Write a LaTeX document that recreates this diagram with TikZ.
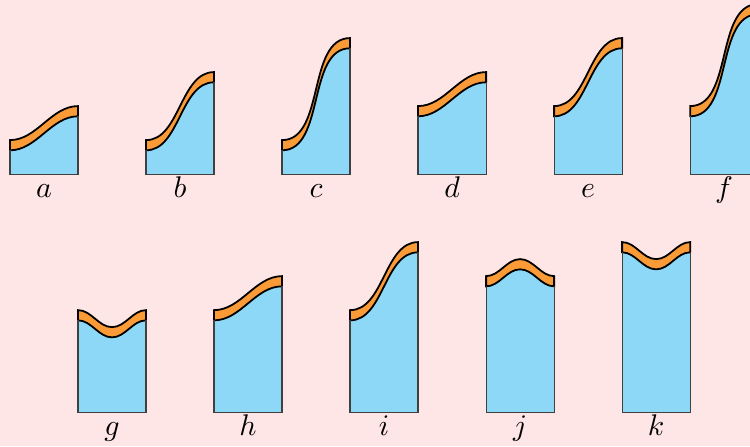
\documentclass[tikz,border=0pt]{standalone}
\usepackage{amsmath}
\usepackage{amssymb}
\usepackage{tikz}
\definecolor{bg}{RGB}{255,230,230}
\definecolor{water}{RGB}{142,216,247}
\definecolor{peel}{RGB}{250,155,55}
\begin{document}
\begin{tikzpicture}[scale=0.4,
  pool/.style={fill=water},
  crust/.style={fill=peel,draw=black,line width=0.6pt},
  wall/.style={draw=black!75,line width=0.4pt},
  ease/.style={out=0,in=180,looseness=0.9},
  easeback/.style={out=180,in=0,looseness=0.9},
  tag/.style={anchor=base,inner sep=0pt}]
\useasboundingbox[fill=bg] (-0.294,-1.0) rectangle (21.76,12.12);

\fill[pool] (0,7) -- (0,7.7) to[ease] (2,8.7) -- (2,7) -- cycle;
\filldraw[crust] (0,7.7) to[ease] (2,8.7) -- (2,9) to[easeback] (0,8) -- cycle;
\draw[wall] (0,7.7) -- (0,7) -- (2,7) -- (2,8.7);
\node (a) at (1,6.31) [tag] {$a$};

\fill[pool] (4,7) -- (4,7.7) to[ease] (6,9.7) -- (6,7) -- cycle;
\filldraw[crust] (4,7.7) to[ease] (6,9.7) -- (6,10) to[easeback] (4,8) -- cycle;
\draw[wall] (4,7.7) -- (4,7) -- (6,7) -- (6,9.7);
\node (b) at (5,6.31) [tag] {$b$};

\fill[pool] (8,7) -- (8,7.7) to[ease] (10,10.7) -- (10,7) -- cycle;
\filldraw[crust] (8,7.7) to[ease] (10,10.7) -- (10,11) to[easeback] (8,8) -- cycle;
\draw[wall] (8,7.7) -- (8,7) -- (10,7) -- (10,10.7);
\node (c) at (9,6.31) [tag] {$c$};

\fill[pool] (12,7) -- (12,8.7) to[ease] (14,9.7) -- (14,7) -- cycle;
\filldraw[crust] (12,8.7) to[ease] (14,9.7) -- (14,10) to[easeback] (12,9) -- cycle;
\draw[wall] (12,8.7) -- (12,7) -- (14,7) -- (14,9.7);
\node (d) at (13,6.31) [tag] {$d$};

\fill[pool] (16,7) -- (16,8.7) to[ease] (18,10.7) -- (18,7) -- cycle;
\filldraw[crust] (16,8.7) to[ease] (18,10.7) -- (18,11) to[easeback] (16,9) -- cycle;
\draw[wall] (16,8.7) -- (16,7) -- (18,7) -- (18,10.7);
\node (e) at (17,6.31) [tag] {$e$};

\fill[pool] (20,7) -- (20,8.7) to[ease] (22,11.7) -- (22,7) -- cycle;
\filldraw[crust] (20,8.7) to[ease] (22,11.7) -- (22,12) to[easeback] (20,9) -- cycle;
\draw[wall] (20,8.7) -- (20,7) -- (22,7) -- (22,11.7);
\node (f) at (21,6.31) [tag] {$f$};

\fill[pool] (2,0) -- (2,2.7) to[ease] (3,2.2) to[ease] (4,2.7) -- (4,0) -- cycle;
\filldraw[crust] (2,2.7) to[ease] (3,2.2) to[ease] (4,2.7) -- (4,3) to[easeback] (3,2.5) to[easeback] (2,3) -- cycle;
\draw[wall] (2,2.7) -- (2,0) -- (4,0) -- (4,2.7);
\node (g) at (3,-0.69) [tag] {$g$};

\fill[pool] (6,0) -- (6,2.7) to[ease] (8,3.7) -- (8,0) -- cycle;
\filldraw[crust] (6,2.7) to[ease] (8,3.7) -- (8,4) to[easeback] (6,3) -- cycle;
\draw[wall] (6,2.7) -- (6,0) -- (8,0) -- (8,3.7);
\node (h) at (7,-0.69) [tag] {$h$};

\fill[pool] (10,0) -- (10,2.7) to[ease] (12,4.7) -- (12,0) -- cycle;
\filldraw[crust] (10,2.7) to[ease] (12,4.7) -- (12,5) to[easeback] (10,3) -- cycle;
\draw[wall] (10,2.7) -- (10,0) -- (12,0) -- (12,4.7);
\node (i) at (11,-0.69) [tag] {$i$};

\fill[pool] (14,0) -- (14,3.7) to[ease] (15,4.2) to[ease] (16,3.7) -- (16,0) -- cycle;
\filldraw[crust] (14,3.7) to[ease] (15,4.2) to[ease] (16,3.7) -- (16,4) to[easeback] (15,4.5) to[easeback] (14,4) -- cycle;
\draw[wall] (14,3.7) -- (14,0) -- (16,0) -- (16,3.7);
\node (j) at (15,-0.69) [tag] {$j$};

\fill[pool] (18,0) -- (18,4.7) to[ease] (19,4.2) to[ease] (20,4.7) -- (20,0) -- cycle;
\filldraw[crust] (18,4.7) to[ease] (19,4.2) to[ease] (20,4.7) -- (20,5) to[easeback] (19,4.5) to[easeback] (18,5) -- cycle;
\draw[wall] (18,4.7) -- (18,0) -- (20,0) -- (20,4.7);
\node (k) at (19,-0.69) [tag] {$k$};

\end{tikzpicture}
\end{document}
